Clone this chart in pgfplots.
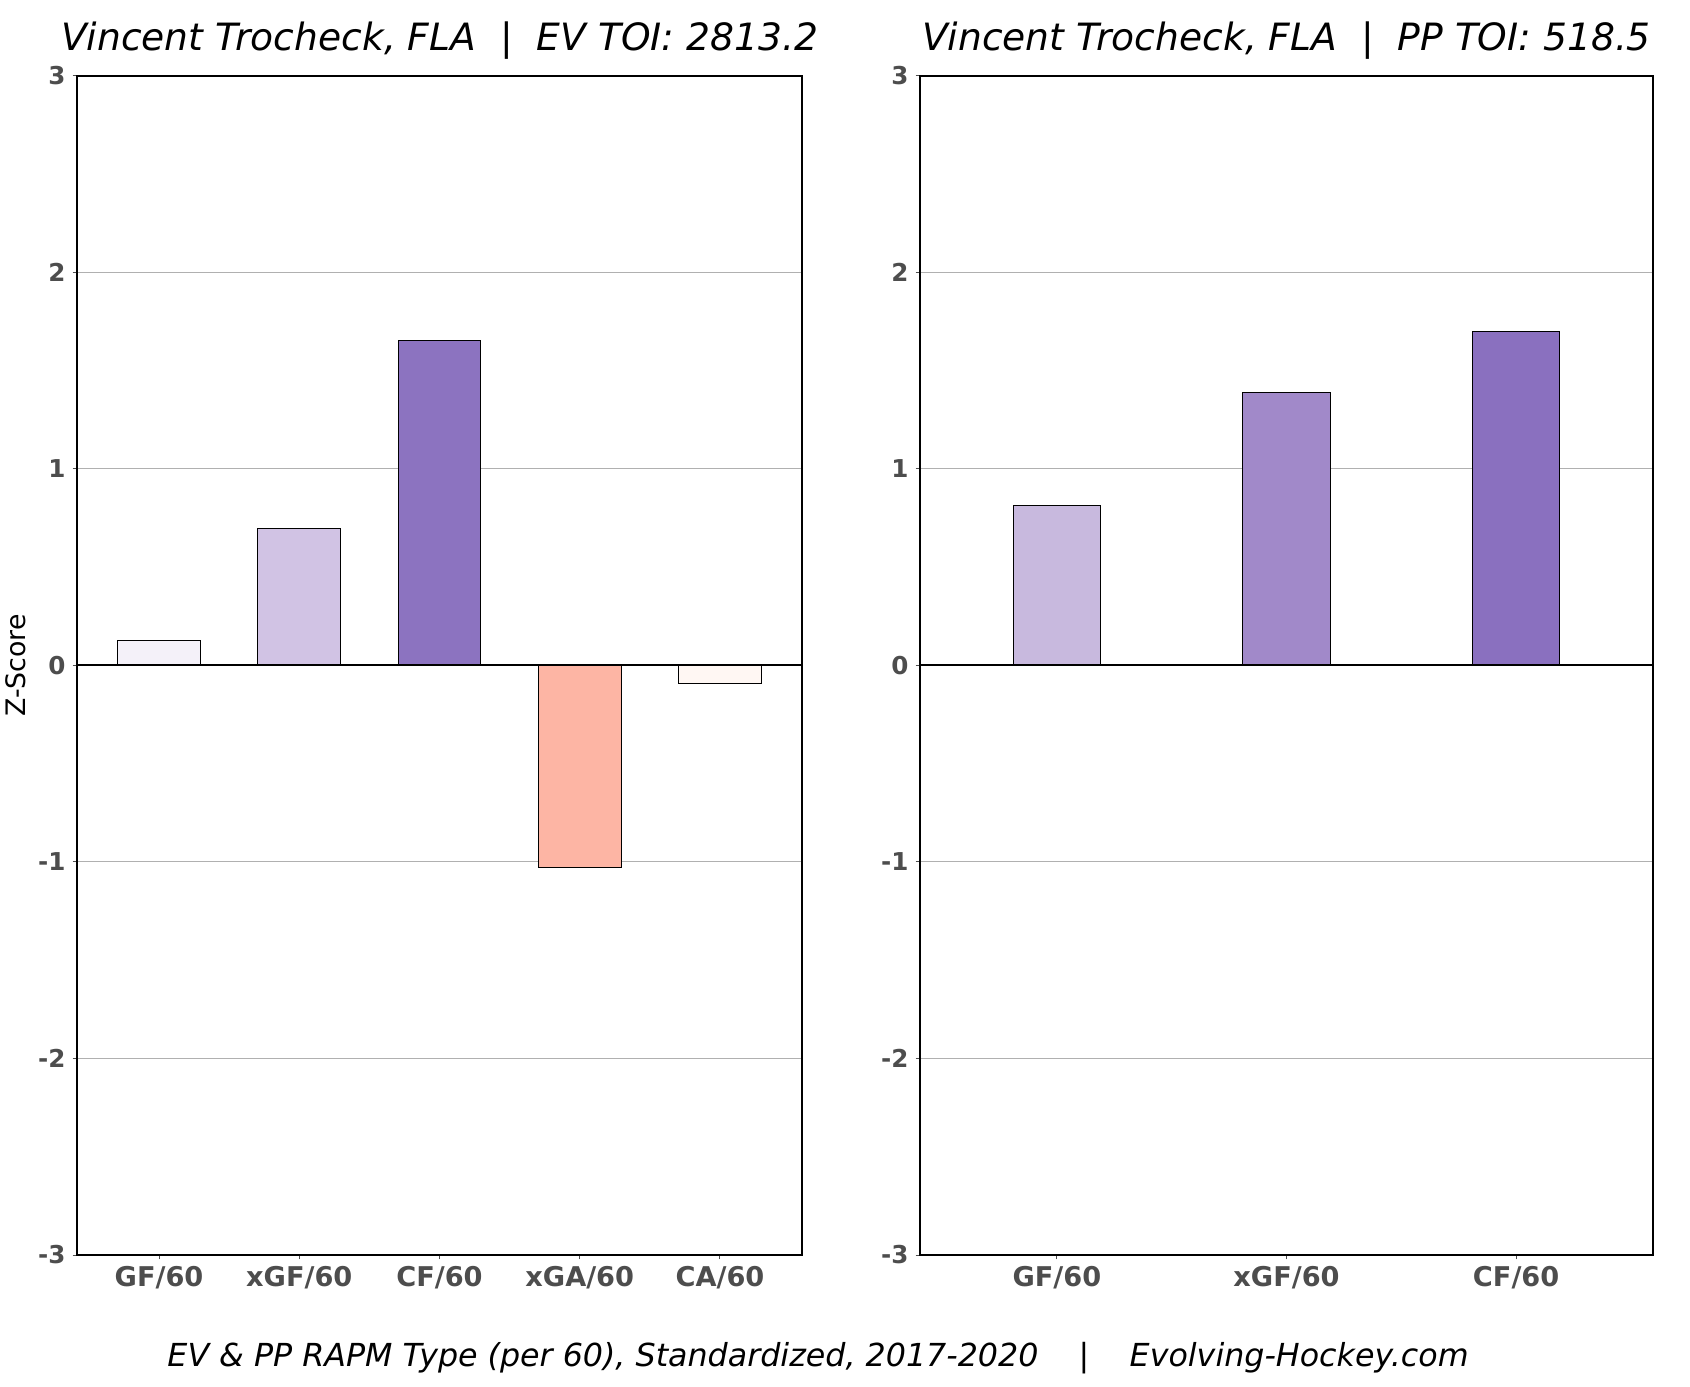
\documentclass[border=0pt]{standalone}
\usepackage{fontspec}
\setmainfont{DejaVu Sans}
\usepackage{pgfplots}
\pgfplotsset{compat=1.18}
\definecolor{tickgray}{HTML}{4D4D4D}
\definecolor{gridgray}{HTML}{B0B0B0}
\definecolor{cA}{HTML}{F4F1F9}
\definecolor{cB}{HTML}{D1C3E4}
\definecolor{cC}{HTML}{8C73C0}
\definecolor{cD}{HTML}{FDB5A4}
\definecolor{cE}{HTML}{FFF7F3}
\definecolor{cF}{HTML}{C8B9DE}
\definecolor{cG}{HTML}{A189C9}
\definecolor{cH}{HTML}{8A70BF}
\pgfplotsset{
  myaxis/.style={
    scale only axis,
    anchor=south west,
    height=589.5pt,
    ymin=-3, ymax=3,
    ytick={-3,-2,-1,0,1,2,3},
    ymajorgrids,
    grid style={gridgray, line width=0.5pt},
    axis line style={black, line width=1pt},
    tick style={tickgray, line width=0.5pt},
    tick align=outside,
    major tick length=2.2pt,
    xtick pos=bottom, ytick pos=left,
    ybar,
    /pgf/number format/assume math mode=true,
    yticklabel style={font=\fontsize{12.3pt}{14pt}\selectfont\bfseries, text=tickgray},
    xticklabel style={font=\fontsize{13.6pt}{15pt}\selectfont\bfseries, text=tickgray},
    every axis title shift=0pt,
    title style={font=\fontsize{18.8pt}{22pt}\selectfont\itshape, anchor=base, at={(0.5,1)}, yshift=12.5pt},
    every axis plot/.append style={bar shift=0pt, draw=black, line width=0.5pt},
  }
}
\begin{document}
\begin{tikzpicture}[x=1pt,y=1pt]
\path (0,0) rectangle (845,693);
\begin{axis}[myaxis,
  at={(38.5pt,65.5pt)}, width=362.5pt,
  xmin=-0.585, xmax=4.585, bar width=0.59,
  xtick={0,1,2,3,4},
  xticklabels={GF/60,xGF/60,CF/60,xGA/60,CA/60},
  title={Vincent Trocheck, FLA\ \ |\ \ EV TOI: 2813.2},
]
\addplot[fill=cA] coordinates {(0,0.129)};
\addplot[fill=cB] coordinates {(1,0.699)};
\addplot[fill=cC] coordinates {(2,1.652)};
\addplot[fill=cD] coordinates {(3,-1.027)};
\addplot[fill=cE] coordinates {(4,-0.090)};
\draw[black, line width=1pt] (axis cs:-0.585,0) -- (axis cs:4.585,0);
\end{axis}
\begin{axis}[myaxis,
  at={(460pt,65.5pt)}, width=366.5pt,
  xmin=-0.596, xmax=2.596, bar width=0.38,
  xtick={0,1,2},
  xticklabels={GF/60,xGF/60,CF/60},
  title={Vincent Trocheck, FLA\ \ |\ \ PP TOI: 518.5},
]
\addplot[fill=cF] coordinates {(0,0.814)};
\addplot[fill=cG] coordinates {(1,1.389)};
\addplot[fill=cH] coordinates {(2,1.701)};
\draw[black, line width=1pt] (axis cs:-0.596,0) -- (axis cs:2.596,0);
\end{axis}
\node[rotate=90, anchor=north, inner sep=0pt, font=\fontsize{13.4pt}{16pt}\selectfont] at (2.5,360.25) {Z-Score};
\node[anchor=base, font=\fontsize{15.85pt}{18pt}\selectfont\itshape] at (409,10) {EV \& PP RAPM Type (per 60), Standardized, 2017-2020\ \ \ \ |\ \ \ \ Evolving-Hockey.com};
\end{tikzpicture}
\end{document}
